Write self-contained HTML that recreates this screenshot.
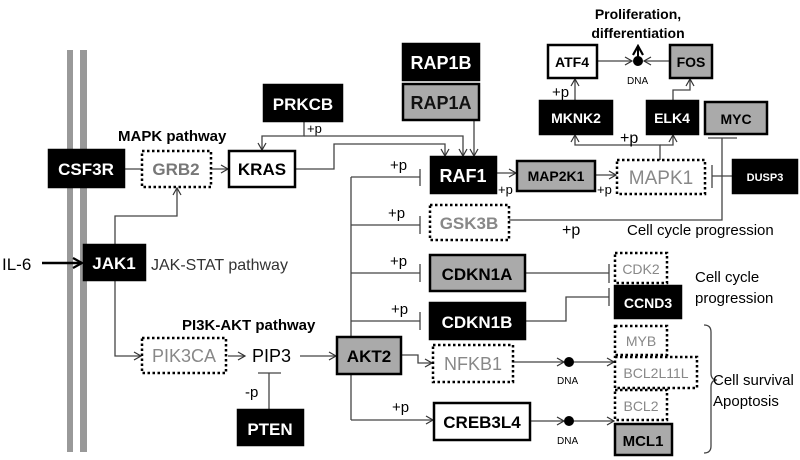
<!DOCTYPE html>
<html><head><meta charset="utf-8"><style>
html,body{margin:0;padding:0;background:#fff;}
svg{display:block;font-family:"Liberation Sans",sans-serif;}
.b{font-weight:bold;}
</style></head><body>
<svg width="800" height="460" viewBox="0 0 800 460" xmlns="http://www.w3.org/2000/svg">
<defs>
<marker id="a" markerWidth="10" markerHeight="10" refX="8" refY="5" orient="auto" markerUnits="userSpaceOnUse">
<path d="M1,1 L8,5 L1,9" fill="none" stroke="#333" stroke-width="1.2"/></marker>
<marker id="ab" markerWidth="12" markerHeight="12" refX="10" refY="6" orient="auto" markerUnits="userSpaceOnUse">
<path d="M1,1 L10,6 L1,11" fill="none" stroke="#000" stroke-width="2.2"/></marker>
</defs>
<rect x="67" y="50" width="6" height="402" fill="#999"/>
<rect x="80" y="50" width="7" height="402" fill="#999"/>

<g stroke="#444" stroke-width="1.3" fill="none">
<line x1="124" y1="169" x2="142" y2="169"/>
<line x1="211" y1="169" x2="228" y2="169" marker-end="url(#a)"/>
<polyline points="304,121 304,136 262,136 262,150" marker-end="url(#a)"/>
<polyline points="304,136 463,136 463,156" marker-end="url(#a)"/>
<polyline points="295,169 334,169 334,144 445,144 445,156" marker-end="url(#a)"/>
<polyline points="474,120 474,156" marker-end="url(#a)"/>
<line x1="496" y1="173" x2="516" y2="173" marker-end="url(#a)"/>
<line x1="595" y1="175" x2="616" y2="175" marker-end="url(#a)"/>
<polyline points="660,160 660,145 575,145 575,135" marker-end="url(#a)"/>
<polyline points="660,145 673,145 673,135" marker-end="url(#a)"/>
<polyline points="575,101 575,79" marker-end="url(#a)"/>
<polyline points="673,101 673,90 690,90 690,79" marker-end="url(#a)"/>
<line x1="597" y1="61" x2="632" y2="61" marker-end="url(#a)"/>
<line x1="670" y1="61" x2="644" y2="61" marker-end="url(#a)"/>
<line x1="733" y1="176" x2="712" y2="176"/>
<line x1="712" y1="165" x2="712" y2="188"/>
<polyline points="509,220 722,220 722,138"/>
<line x1="708" y1="138" x2="737" y2="138"/>
<line x1="351" y1="177" x2="351" y2="420"/>
<line x1="351" y1="177" x2="420" y2="177"/><line x1="420" y1="169" x2="420" y2="186"/>
<line x1="351" y1="225" x2="420" y2="225"/><line x1="420" y1="216" x2="420" y2="234"/>
<line x1="351" y1="273" x2="420" y2="273"/><line x1="420" y1="264" x2="420" y2="282"/>
<line x1="351" y1="321" x2="420" y2="321"/><line x1="420" y1="312" x2="420" y2="330"/>
<line x1="351" y1="420" x2="433" y2="420" marker-end="url(#a)"/>
<polyline points="401,355 418,355 418,363 432,363" marker-end="url(#a)"/>
<line x1="525" y1="273" x2="609" y2="273"/><line x1="609" y1="264" x2="609" y2="283"/>
<polyline points="525,321 566,321 566,297 609,297"/><line x1="609" y1="288" x2="609" y2="306"/>
<line x1="513" y1="362" x2="564" y2="362" marker-end="url(#a)"/>
<line x1="569" y1="362" x2="614" y2="362" marker-end="url(#a)"/>
<line x1="530" y1="421" x2="564" y2="421" marker-end="url(#a)"/>
<line x1="569" y1="421" x2="614" y2="421" marker-end="url(#a)"/>
<polyline points="115,245 115,216 177,216 177,188" marker-end="url(#a)"/>
<polyline points="115,280 115,356 141,356" marker-end="url(#a)"/>
<line x1="228" y1="356" x2="245" y2="356" marker-end="url(#a)"/>
<line x1="300" y1="356" x2="336" y2="356" marker-end="url(#a)"/>
<line x1="269" y1="410" x2="269" y2="373"/><line x1="258" y1="373" x2="281" y2="373"/>
<path d="M704,325 Q711,325 711,332 L711,373 Q711,380 717,380 Q711,380 711,387 L711,446 Q711,453 704,453"/>
</g>
<line x1="42" y1="263" x2="82" y2="263" stroke="#000" stroke-width="2.5" marker-end="url(#ab)"/>
<line x1="638" y1="58" x2="638" y2="46" stroke="#000" stroke-width="2" marker-end="url(#ab)"/>
<circle cx="638" cy="61" r="5" fill="#000"/>
<circle cx="569" cy="362" r="5" fill="#000"/>
<circle cx="569" cy="421" r="5" fill="#000"/>

<g stroke-width="2.5">
<rect x="49" y="150" width="75" height="37" fill="#000" stroke="#000"/>
<rect x="142" y="151" width="69" height="36" fill="#fff" stroke="#000" stroke-dasharray="2.5,2.5"/>
<rect x="229" y="151" width="66" height="36" fill="#fff" stroke="#000"/>
<rect x="264" y="85" width="78" height="36" fill="#000" stroke="#000"/>
<rect x="403" y="44" width="76" height="36" fill="#000" stroke="#000"/>
<rect x="403" y="84" width="76" height="36" fill="#aaa" stroke="#000"/>
<rect x="431" y="157" width="65" height="36" fill="#000" stroke="#000"/>
<rect x="517" y="161" width="78" height="30" fill="#aaa" stroke="#000"/>
<rect x="617" y="160" width="88" height="34" fill="#fff" stroke="#000" stroke-dasharray="2.5,2.5"/>
<rect x="733" y="160" width="64" height="33" fill="#000" stroke="#000"/>
<rect x="705" y="102" width="62" height="32" fill="#aaa" stroke="#000"/>
<rect x="647" y="101" width="51" height="33" fill="#000" stroke="#000"/>
<rect x="540" y="101" width="72" height="33" fill="#000" stroke="#000"/>
<rect x="548" y="45" width="49" height="33" fill="#fff" stroke="#000"/>
<rect x="670" y="45" width="42" height="33" fill="#aaa" stroke="#000"/>
<rect x="430" y="205" width="79" height="35" fill="#fff" stroke="#000" stroke-dasharray="2.5,2.5"/>
<rect x="430" y="255" width="95" height="36" fill="#aaa" stroke="#000"/>
<rect x="430" y="303" width="95" height="36" fill="#000" stroke="#000"/>
<rect x="337" y="337" width="64" height="37" fill="#aaa" stroke="#000"/>
<rect x="433" y="345" width="80" height="37" fill="#fff" stroke="#000" stroke-dasharray="2.5,2.5"/>
<rect x="434" y="403" width="96" height="37" fill="#fff" stroke="#000"/>
<rect x="615" y="253" width="52" height="30" fill="#fff" stroke="#000" stroke-dasharray="2.5,2.5"/>
<rect x="615" y="286" width="66" height="32" fill="#000" stroke="#000"/>
<rect x="615" y="326" width="52" height="29" fill="#fff" stroke="#000" stroke-dasharray="2.5,2.5"/>
<rect x="615" y="357" width="82" height="31" fill="#fff" stroke="#000" stroke-dasharray="2.5,2.5"/>
<rect x="615" y="390" width="52" height="30" fill="#fff" stroke="#000" stroke-dasharray="2.5,2.5"/>
<rect x="615" y="424" width="57" height="31" fill="#aaa" stroke="#000"/>
<rect x="84" y="245" width="61" height="35" fill="#000" stroke="#000"/>
<rect x="142" y="338" width="84" height="35" fill="#fff" stroke="#000" stroke-dasharray="2.5,2.5"/>
<rect x="238" y="410" width="65" height="35" fill="#000" stroke="#000"/>
</g>

<g class="b" text-anchor="middle" font-size="17">
<text x="86" y="175" fill="#fff">CSF3R</text>
<text x="176" y="175" fill="#777">GRB2</text>
<text x="262" y="175" fill="#000">KRAS</text>
<text x="303" y="110" fill="#fff">PRKCB</text>
<text x="441" y="69" fill="#fff" font-size="18">RAP1B</text>
<text x="441" y="109" fill="#111" font-size="18">RAP1A</text>
<text x="463" y="182" fill="#fff" font-size="18">RAF1</text>
<text x="556" y="181" fill="#000" font-size="14">MAP2K1</text>
<text x="661" y="184" fill="#888" font-size="19" font-weight="normal">MAPK1</text>
<text x="765" y="181" fill="#fff" font-size="11">DUSP3</text>
<text x="736" y="124" fill="#000" font-size="14">MYC</text>
<text x="672" y="123" fill="#fff" font-size="14">ELK4</text>
<text x="576" y="123" fill="#fff" font-size="14">MKNK2</text>
<text x="572" y="67" fill="#000" font-size="14">ATF4</text>
<text x="691" y="67" fill="#000" font-size="14">FOS</text>
<text x="469" y="229" fill="#888">GSK3B</text>
<text x="477" y="280" fill="#000">CDKN1A</text>
<text x="477" y="328" fill="#fff">CDKN1B</text>
<text x="369" y="362" fill="#000">AKT2</text>
<text x="473" y="370" fill="#888" font-weight="normal" font-size="18">NFKB1</text>
<text x="482" y="428" fill="#000">CREB3L4</text>
<text x="641" y="274" fill="#888" font-size="14" font-weight="normal">CDK2</text>
<text x="648" y="308" fill="#fff" font-size="14">CCND3</text>
<text x="641" y="346" fill="#888" font-size="14" font-weight="normal">MYB</text>
<text x="656" y="378" fill="#888" font-size="14" font-weight="normal">BCL2L11L</text>
<text x="641" y="411" fill="#888" font-size="14" font-weight="normal">BCL2</text>
<text x="643" y="446" fill="#000" font-size="15">MCL1</text>
<text x="114" y="269" fill="#fff">JAK1</text>
<text x="184" y="362" fill="#888" font-weight="normal" font-size="18">PIK3CA</text>
<text x="270" y="435" fill="#fff">PTEN</text>
</g>

<g font-size="14" fill="#000">
<text x="118" y="141" class="b" font-size="15">MAPK pathway</text>
<text x="182" y="330" class="b" font-size="15">PI3K-AKT pathway</text>
<text x="151" y="270" font-size="16" fill="#333">JAK-STAT pathway</text>
<text x="2" y="270" font-size="17">IL-6</text>
<text x="252" y="362" font-size="18">PIP3</text>
<text x="245" y="397" font-size="15">-p</text>
<text x="307" y="133" font-size="13">+p</text>
<text x="498" y="194" font-size="13">+p</text>
<text x="597" y="194" font-size="13">+p</text>
<text x="620" y="143" font-size="16">+p</text>
<text x="552" y="97" font-size="15">+p</text>
<text x="390" y="170" font-size="15">+p</text>
<text x="388" y="218" font-size="15">+p</text>
<text x="390" y="266" font-size="15">+p</text>
<text x="391" y="314" font-size="15">+p</text>
<text x="392" y="412" font-size="15">+p</text>
<text x="562" y="235" font-size="16">+p</text>
<text x="627" y="235" font-size="15">Cell cycle progression</text>
<text x="695" y="282" font-size="15">Cell cycle</text>
<text x="695" y="303" font-size="15">progression</text>
<text x="713" y="385" font-size="15">Cell survival</text>
<text x="713" y="406" font-size="15">Apoptosis</text>
<text x="638" y="19" font-size="14" class="b" text-anchor="middle">Proliferation,</text>
<text x="638" y="38" font-size="14" class="b" text-anchor="middle">differentiation</text>
<text x="627" y="84" font-size="10">DNA</text>
<text x="557" y="384" font-size="10">DNA</text>
<text x="557" y="444" font-size="10">DNA</text>
</g>
</svg>
</body></html>
